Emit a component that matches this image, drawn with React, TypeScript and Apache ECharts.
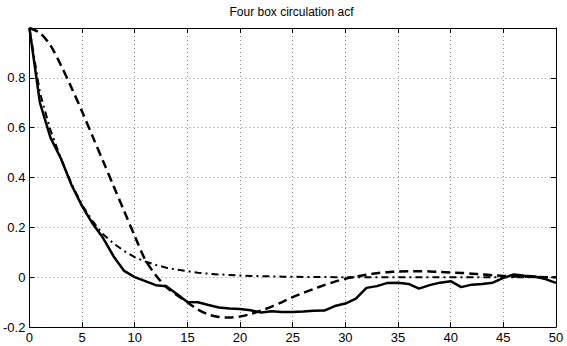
import React, { useEffect, useRef } from "react";
import * as echarts from "echarts";

const lags = [0, 1, 2, 3, 4, 5, 6, 7, 8, 9, 10, 11, 12, 13, 14, 15, 16, 17, 18, 19, 20, 21, 22, 23, 24, 25, 26, 27, 28, 29, 30, 31, 32, 33, 34, 35, 36, 37, 38, 39, 40, 41, 42, 43, 44, 45, 46, 47, 48, 49, 50];

const sampleAcf = [1.0, 0.70, 0.56, 0.475, 0.37, 0.285, 0.215, 0.157, 0.083, 0.025, 0.0, -0.016, -0.032, -0.036, -0.068, -0.1, -0.101, -0.112, -0.122, -0.126, -0.128, -0.133, -0.142, -0.137, -0.14, -0.14, -0.138, -0.135, -0.134, -0.116, -0.106, -0.086, -0.043, -0.036, -0.023, -0.022, -0.027, -0.046, -0.032, -0.022, -0.016, -0.04, -0.03, -0.027, -0.022, -0.003, 0.011, 0.006, 0.003, -0.008, -0.023];

const dashedAcf = [1.0, 0.98, 0.93, 0.85, 0.76, 0.665, 0.565, 0.465, 0.365, 0.265, 0.165, 0.07, 0.008, -0.04, -0.072, -0.101, -0.13, -0.15, -0.16, -0.162, -0.158, -0.148, -0.134, -0.118, -0.1, -0.08, -0.063, -0.047, -0.032, -0.018, -0.006, 0.002, 0.01, 0.016, 0.02, 0.023, 0.024, 0.024, 0.023, 0.021, 0.019, 0.017, 0.014, 0.011, 0.008, 0.005, 0.003, 0.002, 0.001, 0.0, 0.0];

const dashDotAcf = [1.0, 0.74, 0.59, 0.475, 0.375, 0.29, 0.225, 0.172, 0.135, 0.105, 0.08, 0.063, 0.049, 0.038, 0.03, 0.024, 0.018, 0.014, 0.011, 0.009, 0.007, 0.005, 0.004, 0.003, 0.002, 0.002, 0.001, 0.001, 0.001, 0.0, 0.0, 0.0, 0.0, 0.0, 0.0, 0.0, 0.0, 0.0, 0.0, 0.0, 0.0, 0.0, 0.0, 0.0, 0.0, 0.0, 0.0, 0.0, 0.0, 0.0, 0.0];

const titleText = "Four box circulation acf";
const xMin = 0, xMax = 50, xStep = 5;
const yMin = -0.2, yMax = 1, yStep = 0.2;

const FONT = "'Liberation Sans', Arial, Helvetica, sans-serif";

function pairs(ys: number[]) {
  return lags.map((x, i) => [x, ys[i]]);
}

export default function App() {
  const ref = useRef<HTMLDivElement>(null);
  useEffect(() => {
    document.body.style.margin = "0";
    if (!ref.current) return;
    const chart = echarts.init(ref.current, undefined, { renderer: "svg" });
    const grid = { left: 27, right: 11, top: 28, bottom: 19 };
    const axisLine = { show: true, onZero: false, lineStyle: { color: "#000", width: 1 } };
    const tick = { show: true, inside: true, length: 5, lineStyle: { color: "#000", width: 1 } };
    const split = { show: true, lineStyle: { color: "#888", width: 1, type: [1, 3] } };
    const fmt = (v: number) => {
      const r = Math.round(v * 10) / 10;
      return r === 0 ? "0" : String(r);
    };
    chart.setOption({
      animation: false,
      backgroundColor: "#fff",
      grid,
      graphic: [
        {
          type: "text",
          x: 27 + (567 - 27 - 11) / 2,
          y: 12,
          style: {
            text: titleText,
            font: `12px ${FONT}`,
            fill: "#000",
            textAlign: "center",
            textVerticalAlign: "middle",
          },
        },
      ],
      xAxis: [
        {
          type: "value",
          position: "bottom",
          min: xMin,
          max: xMax,
          interval: xStep,
          axisLine,
          axisTick: tick,
          splitLine: split,
          axisLabel: { color: "#000", fontFamily: FONT, fontSize: 13, margin: 4 },
        },
        {
          type: "value",
          position: "top",
          min: xMin,
          max: xMax,
          interval: xStep,
          axisLine,
          axisTick: tick,
          splitLine: { show: false },
          axisLabel: { show: false },
        },
      ],
      yAxis: [
        {
          type: "value",
          position: "left",
          min: yMin,
          max: yMax,
          interval: yStep,
          axisLine,
          axisTick: tick,
          splitLine: split,
          axisLabel: {
            color: "#000",
            fontFamily: FONT,
            fontSize: 13,
            margin: 4,
            showMaxLabel: false,
            formatter: fmt,
          },
        },
        {
          type: "value",
          position: "right",
          min: yMin,
          max: yMax,
          interval: yStep,
          axisLine,
          axisTick: tick,
          splitLine: { show: false },
          axisLabel: { show: false },
        },
      ],
      series: [
        {
          type: "line",
          data: pairs(dashDotAcf),
          showSymbol: false,
          lineStyle: { color: "#000", width: 2, type: [7, 4, 2, 4] },
        },
        {
          type: "line",
          data: pairs(dashedAcf),
          showSymbol: false,
          smooth: 0.3,
          lineStyle: { color: "#000", width: 2.5, type: [9, 5] },
        },
        {
          type: "line",
          data: pairs(sampleAcf),
          showSymbol: false,
          lineStyle: { color: "#000", width: 2.5 },
        },
      ],
    });
    return () => chart.dispose();
  }, []);
  return <div ref={ref} style={{ width: 567, height: 346 }} />;
}
